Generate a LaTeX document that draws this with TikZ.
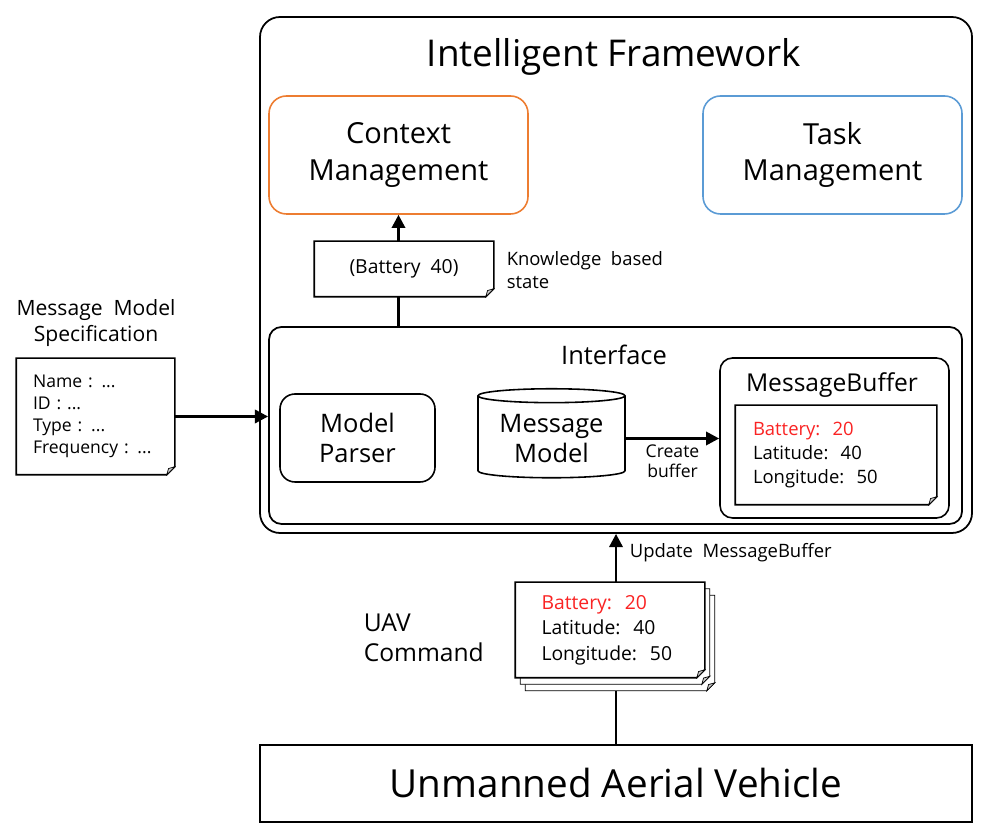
\documentclass[tikz,border=0pt]{standalone}
\usepackage{fontspec}
\setmainfont{Open Sans}
\usetikzlibrary{arrows.meta,shapes.geometric}
\pgfdeclarelayer{bg}
\pgfsetlayers{bg,main}
\definecolor{ctxorange}{RGB}{237,125,49}
\definecolor{taskblue}{RGB}{91,155,213}
\definecolor{bufred}{RGB}{250,35,35}
\newcommand{\fsz}[2]{\fontsize{#1}{#2}\selectfont}
\newcommand{\fold}[3][]{%
  \draw[#1] ([shift={(#3)}]#2.north west) -- ([shift={(#3)}]#2.north east)
    -- ([shift={(#3)},yshift=1.6mm]#2.south east) -- ([shift={(#3)},xshift=-1.6mm]#2.south east)
    -- ([shift={(#3)}]#2.south west) -- cycle;
  \draw[fill=gray!40, line width=.4pt] ([shift={(#3)},yshift=1.6mm]#2.south east)
    -- ([shift={(#3)},xshift=-1.6mm]#2.south east) -- ([shift={(#3)},xshift=-1.25mm,yshift=1.25mm]#2.south east) -- cycle;}
\begin{document}
\begin{tikzpicture}[line width=0.9pt, fw/.style={draw, rounded corners=0.4cm, line width=1pt}, mgmt/.style={draw, rounded corners=0.35cm, minimum width=5.18cm, minimum height=2.36cm, align=center, font=\fsz{16.5}{21}}, part/.style={draw, rounded corners=0.3cm, align=center, font=\fsz{14.5}{17}}, docnode/.style={fill=white, inner sep=0pt, align=left}, txt/.style={align=left, inner sep=0pt, font=\fsz{10.5}{13}}, arr/.style={-{Triangle[length=7.5pt,width=7.5pt]}, line width=1.6pt}, link/.style={line width=1.6pt}]
	\useasboundingbox (0,0) rectangle (19.7,16.72);
	\node[fw, minimum width=14.24cm, minimum height=10.32cm] (F) at (12.32,11.22) {};
	\node[font=\fsz{21}{25}] (T) at (12.28,15.58) {Intelligent Framework};
	\node[mgmt, draw=ctxorange] (C) at (7.97,13.62) {Context\\Management};
	\node[mgmt, draw=taskblue] (TM) at (16.65,13.62) {Task\\Management};
	\node[docnode, align=center, minimum width=3.56cm, minimum height=1.08cm, font=\fsz{11}{13}] (B) at (8.08,11.34) {(Battery\ \ 40)};
	\node[txt, anchor=west] (K) at (10.12,11.32) {Knowledge\ \ based\\state};
	\node[fw, rounded corners=0.25cm, minimum width=13.86cm, minimum height=3.94cm] (I) at (12.31,8.21) {};
	\node[font=\fsz{14.5}{17}] (IT) at (12.28,9.62) {Interface};
	\node[part, minimum width=3.1cm, minimum height=1.76cm] (P) at (7.15,7.96) {Model\\Parser};
	\node[cylinder, draw, shape border rotate=90, aspect=0.12, minimum width=2.94cm, minimum height=1.78cm, align=center, font=\fsz{14.5}{17}] (M) at (11.03,7.95) {Message\\Model};
	\node[part, rounded corners=0.25cm, minimum width=4.58cm, minimum height=3.2cm] (MB) at (16.69,7.96) {};
	\node[font=\fsz{14}{17}] (MT) at (16.64,9.02) {MessageBuffer};
	\node[docnode, text width=3.32cm, minimum width=4cm, minimum height=1.96cm, font=\fsz{10.5}{13.4}] (BD) at (16.72,7.62) {\textcolor{bufred}{Battery:\ \ 20}\\Latitude:\ \ 40\\Longitude:\ \ 50};
	\node[align=center, font=\fsz{12}{14.8}] (SL) at (1.92,10.26) {Message\ \ Model\\Specification};
	\node[docnode, text width=2.5cm, minimum width=3.14cm, minimum height=2.3cm, font=\fsz{10}{12.5}] (S) at (1.91,8.39) {Name : ...\\ID : ...\\Type : ...\\Frequency : ...};
	\node[align=left, inner sep=0pt, font=\fsz{14}{17}, anchor=west] (UC) at (7.26,3.96) {UAV\\Command};
	\node[docnode, text width=2.74cm, minimum width=3.76cm, minimum height=1.88cm, font=\fsz{11}{14.5}] (U) at (12.2,4.12) {\textcolor{bufred}{Battery:\ \ 20}\\Latitude:\ \ 40\\Longitude:\ \ 50};
	\node[draw, minimum width=14.24cm, minimum height=1.54cm, font=\fsz{22}{26}] (V) at (12.32,1.05) {Unmanned Aerial Vehicle};
	\fold{B}{0,0}
	\fold{S}{0,0}
	\fold{BD}{0,0}
	\fold{U}{0,0}
	\begin{pgfonlayer}{bg}
		\draw[link] (V.north) -- (V.north |- U.south);
		\fold[fill=white]{U}{0.2,-0.26}
		\fold[fill=white]{U}{0.1,-0.13}
	\end{pgfonlayer}
	\draw[arr] (B.north -| C.south) -- (C.south);
	\draw[link] (I.north -| C.south) -- (B.south -| C.south);
	\draw[arr] (S.east) -- (S.east -| I.west);
	\draw[arr] (M.east) -- node[below, txt, font=\fsz{10}{11.5}, align=center, yshift=-0.1cm] {Create\\buffer} (M.east -| MB.west);
	\draw[arr] (U.north -| V.north) -- node[right, txt, pos=0.62, xshift=0.25cm] {Update\ \ MessageBuffer} (F.south -| V.north);
\end{tikzpicture}
\end{document}
